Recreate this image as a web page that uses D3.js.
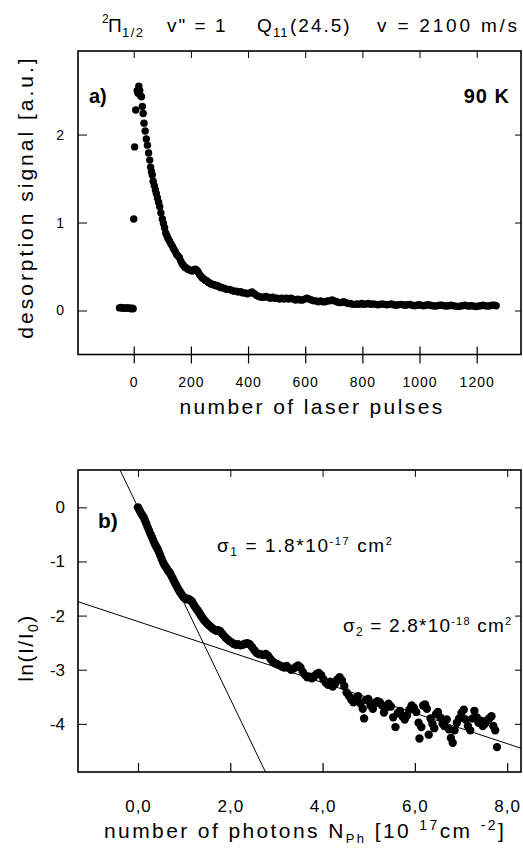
<!DOCTYPE html>
<html>
<head>
<meta charset="utf-8">
<style>
  body { margin: 0; background: #fff; font-family: "Liberation Sans", Arial, Helvetica, sans-serif; }
  svg text { fill: #000; }
  .tick line { stroke: #000; }
</style>
<script src="https://cdnjs.cloudflare.com/ajax/libs/d3/7.8.5/d3.min.js"></script>
</head>
<body>
<svg id="chart" width="523" height="854"></svg>
<script>
/* ---- data ---- */
// a) desorption signal vs number of laser pulses
let pulses = [-50,-45,-40,-35,-30,-25,-20,-15,-10,-5,-2,
  0,3,7,12,15,18,21,24,27,30,33,36,40,44,48,52,56,59,62,65,68,72,76,79,83,87,91,95,100,104,108,112,116,120,125,130,135,140,145,150,155,160,165,170,175,180,185,190,195,200,205,210,215,220,225,230,235,240,245,250,255,260,265,270,275,280,285,290,295,300,305,310,318,326,334,342,350,358,366,374,382,390,398,406,414,422,430,438,446,454,462,470,478,486,494,502,510,518,526,534,542,550,558,566,574,582,590,598,606,614,622,630,638,646,654,662,670,678,686,694,702,710,718,726,734,742,750,758,766,774,782,790,798,806,814,822,830,838,846,854,862,870,878,886,894,902,910,918,926,934,942,950,958,966,974,982,990,998,1006,1014,1022,1030,1038,1046,1054,1062,1070,1078,1086,1094,1102,1110,1118,1126,1134,1142,1150,1158,1166,1174,1182,1190,1198,1206,1214,1222,1230,1238,1246,1254,1262,1268]
let signal = [0.03,0.035,0.03,0.025,0.03,0.03,0.025,0.03,0.02,0.025,0.02,
  1.04,1.86,2.28,2.5,2.47,2.55,2.5,2.44,2.43,2.32,2.24,2.13,2.04,1.95,1.88,1.79,1.71,1.63,1.58,1.54,1.47,1.42,1.37,1.33,1.28,1.23,1.18,1.11,1.04,0.99,0.94,0.88,0.85,0.82,0.79,0.76,0.73,0.70,0.67,0.64,0.62,0.60,0.56,0.53,0.51,0.49,0.48,0.47,0.46,0.455,0.45,0.46,0.47,0.46,0.44,0.41,0.39,0.37,0.36,0.345,0.34,0.32,0.315,0.30,0.30,0.29,0.29,0.28,0.28,0.27,0.26,0.26,0.25,0.24,0.24,0.23,0.22,0.22,0.21,0.215,0.20,0.20,0.19,0.20,0.21,0.19,0.17,0.16,0.15,0.15,0.16,0.15,0.14,0.15,0.14,0.14,0.13,0.14,0.13,0.14,0.13,0.14,0.13,0.12,0.13,0.12,0.12,0.13,0.14,0.13,0.12,0.11,0.11,0.10,0.11,0.10,0.10,0.11,0.11,0.12,0.11,0.10,0.09,0.09,0.10,0.09,0.08,0.08,0.07,0.07,0.075,0.07,0.08,0.07,0.075,0.08,0.07,0.075,0.07,0.065,0.07,0.075,0.07,0.065,0.07,0.075,0.065,0.06,0.065,0.07,0.065,0.06,0.065,0.07,0.06,0.055,0.06,0.065,0.06,0.055,0.06,0.065,0.06,0.055,0.05,0.055,0.06,0.06,0.055,0.05,0.055,0.06,0.055,0.05,0.045,0.05,0.055,0.06,0.055,0.05,0.055,0.05,0.045,0.05,0.055,0.06,0.055,0.05,0.055,0.06,0.06,0.055]

// b) ln(I/I0) vs number of photons (10^17 cm^-2)
let photons = [0.00,0.03,0.06,0.09,0.12,0.15,0.18,0.21,0.24,0.27,0.30,0.33,0.36,0.39,0.42,0.45,0.48,0.51,0.54,0.57,0.60,0.63,0.66,0.69,0.72,0.75,0.78,0.81,0.84,0.87,0.90,0.93,0.96,0.99,1.02,1.05,1.08,1.11,1.14,1.17,1.20,1.23,1.26,1.29,1.32,1.35,1.38,1.41,1.44,1.47,1.50,1.54,1.58,1.62,1.66,1.70,1.74,1.78,1.82,1.86,1.90,1.94,1.98,2.02,2.07,2.12,2.17,2.22,2.27,2.32,2.37,2.42,2.47,2.52,2.57,2.62,2.67,2.72,2.77,2.82,2.87,2.92,2.97,3.02,3.07,3.12,3.17,3.22,3.27,3.32,3.37,3.42,3.47,3.52,3.57,3.62,3.67,3.72,3.77,3.82,3.87,3.92,3.97,4.02,4.07,4.12,4.17,4.22,4.27,4.32,4.37,4.42,4.47,4.52,4.57,4.62,4.67,4.72,4.77,4.82,4.87,4.90,4.94,4.99,5.04,5.09,5.14,5.19,5.24,5.29,5.33,5.38,5.43,5.48,5.53,5.58,5.63,5.68,5.73,5.78,5.83,5.88,5.93,5.98,6.03,6.08,6.10,6.14,6.18,6.22,6.26,6.30,6.34,6.38,6.42,6.46,6.50,6.55,6.60,6.64,6.69,6.74,6.78,6.82,6.86,6.91,6.96,7.01,7.06,7.10,7.15,7.20,7.25,7.29,7.34,7.38,7.43,7.47,7.52,7.56,7.61,7.66,7.70,7.74,7.78]
let lnRatio = [0.00,-0.05,-0.10,-0.14,-0.18,-0.24,-0.30,-0.37,-0.43,-0.49,-0.55,-0.61,-0.67,-0.72,-0.76,-0.82,-0.88,-0.95,-1.01,-1.06,-1.10,-1.14,-1.18,-1.21,-1.26,-1.31,-1.36,-1.41,-1.46,-1.51,-1.55,-1.59,-1.63,-1.66,-1.68,-1.70,-1.69,-1.70,-1.72,-1.74,-1.79,-1.83,-1.87,-1.90,-1.94,-1.98,-2.02,-2.06,-2.09,-2.12,-2.15,-2.18,-2.21,-2.24,-2.26,-2.28,-2.27,-2.29,-2.33,-2.37,-2.41,-2.44,-2.47,-2.49,-2.52,-2.54,-2.53,-2.55,-2.54,-2.52,-2.51,-2.53,-2.58,-2.64,-2.69,-2.71,-2.72,-2.73,-2.71,-2.74,-2.80,-2.85,-2.88,-2.90,-2.92,-2.94,-2.96,-2.93,-2.97,-3.00,-2.98,-2.95,-2.92,-2.96,-3.04,-3.10,-3.14,-3.13,-3.16,-3.12,-3.08,-3.06,-3.10,-3.18,-3.24,-3.28,-3.22,-3.31,-3.26,-3.18,-3.14,-3.20,-3.30,-3.42,-3.48,-3.55,-3.60,-3.52,-3.49,-3.62,-3.72,-3.90,-3.56,-3.54,-3.66,-3.72,-3.62,-3.58,-3.60,-3.66,-3.79,-3.70,-3.63,-3.68,-3.88,-4.06,-3.80,-3.76,-3.86,-3.92,-3.84,-3.74,-3.66,-3.70,-3.78,-3.98,-4.27,-4.06,-3.66,-3.64,-3.72,-4.20,-3.90,-4.00,-4.08,-3.82,-3.78,-3.88,-4.00,-4.04,-3.92,-4.10,-4.26,-4.35,-4.12,-3.98,-3.90,-3.80,-3.74,-3.92,-4.04,-4.12,-3.90,-3.76,-3.88,-3.98,-3.94,-4.04,-4.00,-3.94,-3.90,-3.86,-4.04,-4.12,-4.43]

// straight-line fits in panel b: y = intercept + slope * x
let fitSlopes = [-1.77, -0.282]
let fitIntercepts = [0.0, -2.11]

// ticks
let pulseTicks = [0, 200, 400, 600, 800, 1000, 1200]
let signalTicks = [0, 1, 2]
let photonTicks = [0, 2, 4, 6, 8]
let lnTicks = [0, -1, -2, -3, -4]

let svg = d3.select("#chart")

/* ---- config ---- */
let panelA = { left: 78, right: 521, top: 51, bottom: 354.5 }
let panelB = { left: 78, right: 521, top: 470, bottom: 772 }

let xA = d3.scaleLinear().domain([-195, 1355]).range([panelA.left, panelA.right])
let yA = d3.scaleLinear().domain([-0.5, 2.95]).range([panelA.bottom, panelA.top])
let xB = d3.scaleLinear().domain([-1.3, 8.3]).range([panelB.left, panelB.right])
let yB = d3.scaleLinear().domain([-4.89, 0.69]).range([panelB.bottom, panelB.top])

/* ---- frames and ticks ---- */
function drawFrame(p, xs, ys, xTicks, yTicks, fmt, fontSize, crossBottom, xPad, yPad) {
  let g = svg.append("g")
  g.append("rect")
    .attr("x", p.left).attr("y", p.top)
    .attr("width", p.right - p.left).attr("height", p.bottom - p.top)
    .attr("fill", "none").attr("stroke", "#000").attr("stroke-width", 1.6)

  // bottom axis with labels (ticks pointing inward, or crossing the axis)
  let bottom = d3.axisBottom(xs).tickValues(xTicks).tickFormat(fmt)
    .tickSizeInner(crossBottom ? 9 : -9).tickSizeOuter(0).tickPadding(xPad)
  let gb = g.append("g").attr("transform", `translate(0,${p.bottom})`).call(bottom)
  gb.select(".domain").remove()
  gb.selectAll("text").attr("font-size", fontSize).attr("letter-spacing", 1)
    .attr("font-family", "Liberation Sans, Arial, sans-serif")
  gb.selectAll(".tick line").attr("stroke-width", 1.2)
  if (crossBottom) {
    gb.selectAll(".tick").append("line").attr("y2", -8).attr("stroke", "#000").attr("stroke-width", 1.2)
  }

  let top = d3.axisTop(xs).tickValues(xTicks).tickFormat("").tickSizeInner(-7).tickSizeOuter(0)
  let gt = g.append("g").attr("transform", `translate(0,${p.top})`).call(top)
  gt.select(".domain").remove()

  let left = d3.axisLeft(ys).tickValues(yTicks).tickFormat(d => String(d))
    .tickSizeInner(-9).tickSizeOuter(0).tickPadding(yPad)
  let gl = g.append("g").attr("transform", `translate(${p.left},0)`).call(left)
  gl.select(".domain").remove()
  gl.selectAll("text").attr("font-size", fontSize)
    .attr("font-family", "Liberation Sans, Arial, sans-serif")

  let right = d3.axisRight(ys).tickValues(yTicks).tickFormat("").tickSizeInner(-6).tickSizeOuter(0)
  let gr = g.append("g").attr("transform", `translate(${p.right},0)`).call(right)
  gr.select(".domain").remove()
}

drawFrame(panelA, xA, yA, pulseTicks, signalTicks, d => String(d), 14, true, 14, 14)
drawFrame(panelB, xB, yB, photonTicks, lnTicks, d => d.toFixed(1).replace(".", ","), 17, false, 28, 13)

/* ---- points ---- */
let dataA = pulses.map((x, i) => ({ x: x, y: signal[i] }))
svg.append("g").selectAll("circle").data(dataA).enter().append("circle")
  .attr("cx", d => xA(d.x)).attr("cy", d => yA(d.y)).attr("r", 3.7).attr("fill", "#000")

let dataB = photons.map((x, i) => ({ x: x, y: lnRatio[i] }))
svg.append("g").selectAll("circle").data(dataB).enter().append("circle")
  .attr("cx", d => xB(d.x)).attr("cy", d => yB(d.y)).attr("r", 4.2).attr("fill", "#000")

/* ---- fit lines (clipped to panel b) ---- */
svg.append("clipPath").attr("id", "clipB").append("rect")
  .attr("x", panelB.left).attr("y", panelB.top)
  .attr("width", panelB.right - panelB.left).attr("height", panelB.bottom - panelB.top)
let xEnds = xB.domain()
let fits = fitSlopes.map((s, i) => xEnds.map(x => [x, fitIntercepts[i] + s * x]))
svg.append("g").attr("clip-path", "url(#clipB)").selectAll("path").data(fits).enter().append("path")
  .attr("d", d3.line().x(d => xB(d[0])).y(d => yB(d[1])))
  .attr("fill", "none").attr("stroke", "#000").attr("stroke-width", 1)

/* ---- texts ---- */
function txt(x, y, s, size, opts) {
  opts = opts || {}
  return svg.append("text").attr("x", x).attr("y", y).attr("font-size", size)
    .attr("font-weight", opts.bold ? "bold" : null)
    .attr("letter-spacing", opts.ls || 0)
    .attr("text-anchor", opts.anchor || "start")
    .text(s)
}

// title
txt(102, 23, "2", 12)
txt(108, 32, "\u03A0", 19)
txt(122, 37, "1/2", 13, { ls: 1.5 })
txt(167, 32, "v\" = 1", 19, { ls: 2 })
txt(257, 32, "Q", 19)
txt(273, 37, "11", 13, { ls: 1 })
txt(290, 32, "(24.5)", 19, { ls: 2 })
txt(377, 32, "v = 2100 m/s", 19, { ls: 2.8 })

// panel labels
txt(89, 103, "a)", 20, { bold: true })
txt(510, 103, "90 K", 20, { bold: true, anchor: "end", ls: 1 })
txt(98, 528, "b)", 21, { bold: true })

// sigma annotations
let s1 = txt(217, 552, "", 19, { ls: 1.6 })
s1.append("tspan").text("\u03C3")
s1.append("tspan").attr("font-size", 12).attr("dy", 4).text("1")
s1.append("tspan").attr("dy", -4).text(" = 1.8*10")
s1.append("tspan").attr("font-size", 11).attr("dy", -7).text("-17")
s1.append("tspan").attr("dy", 7).text(" cm")
s1.append("tspan").attr("font-size", 11).attr("dy", -7).text("2")

let s2 = txt(343, 632, "", 19, { ls: 1.2 })
s2.append("tspan").text("\u03C3")
s2.append("tspan").attr("font-size", 12).attr("dy", 4).text("2")
s2.append("tspan").attr("dy", -4).text(" = 2.8*10")
s2.append("tspan").attr("font-size", 11).attr("dy", -7).text("-18")
s2.append("tspan").attr("dy", 7).text(" cm")
s2.append("tspan").attr("font-size", 11).attr("dy", -7).text("2")

// axis titles
txt(312, 414, "number of laser pulses", 21, { anchor: "middle", ls: 2.4 })

let xt = txt(104, 838, "number of photons N", 21, { ls: 2.4 })
xt.append("tspan").attr("font-size", 13).attr("dy", 5).text("Ph")
xt.append("tspan").attr("dy", -5).text(" [10 ")
xt.append("tspan").attr("font-size", 14).attr("dy", -8).text("17")
xt.append("tspan").attr("dy", 8).text("cm ")
xt.append("tspan").attr("font-size", 14).attr("dy", -8).text("-2")
xt.append("tspan").attr("dy", 8).text("]")

svg.append("text").attr("transform", "translate(33,197) rotate(-90)")
  .attr("text-anchor", "middle").attr("font-size", 21).attr("letter-spacing", 3)
  .text("desorption signal [a.u.]")

let yt = svg.append("text").attr("transform", "translate(33,648) rotate(-90)")
  .attr("text-anchor", "middle").attr("font-size", 21).attr("letter-spacing", 1.5)
yt.append("tspan").text("ln(I/I")
yt.append("tspan").attr("font-size", 14).attr("dy", 5).text("0")
yt.append("tspan").attr("dy", -5).text(")")
</script>
</body>
</html>
